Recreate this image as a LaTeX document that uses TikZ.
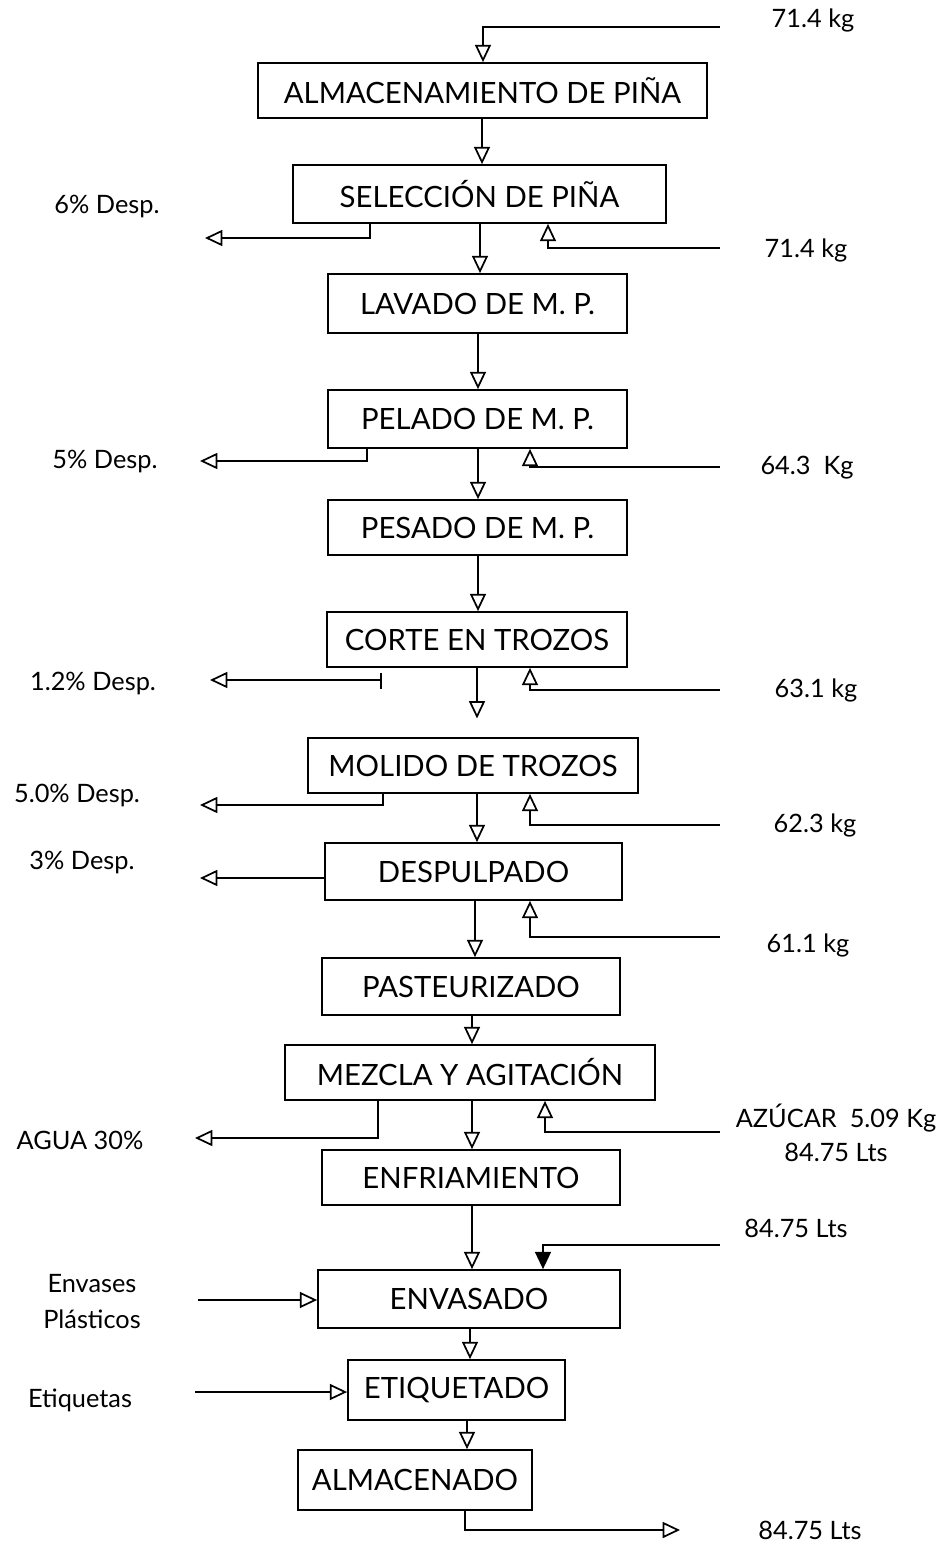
\documentclass[tikz,border=0pt]{standalone}
\usepackage{fontspec}
\setmainfont{Lato}
\usetikzlibrary{arrows.meta}
\begin{document}
\begin{tikzpicture}[x=0.75pt,y=-0.75pt,
  box/.style={draw,line width=1.3pt,inner sep=0pt,font=\fontsize{22}{26}\selectfont},
  lbl/.style={font=\fontsize{19}{23}\selectfont,align=center,inner sep=0pt},
  arr/.style={line width=1.3pt,-{Triangle[open,length=13pt,width=12pt]}},
  arrf/.style={line width=1.3pt,-{Triangle[length=13pt,width=12pt]}}]
\useasboundingbox (0,0) rectangle (950,1545);
% boxes
\node[box,minimum width=449*0.75pt,minimum height=55*0.75pt] (b1) at (482.5,90.5) {ALMACENAMIENTO DE PIÑA};
\node[box,minimum width=373*0.75pt,minimum height=58*0.75pt] (b2) at (479.5,194) {SELECCIÓN DE PIÑA};
\node[box,minimum width=299*0.75pt,minimum height=59*0.75pt] (b3) at (477.5,303.5) {LAVADO DE M. P.};
\node[box,minimum width=299*0.75pt,minimum height=58*0.75pt] (b4) at (477.5,419) {PELADO DE M. P.};
\node[box,minimum width=299*0.75pt,minimum height=55*0.75pt] (b5) at (477.5,527.5) {PESADO DE M. P.};
\node[box,minimum width=300*0.75pt,minimum height=55*0.75pt] (b6) at (477,639.5) {CORTE EN TROZOS};
\node[box,minimum width=330*0.75pt,minimum height=55*0.75pt] (b7) at (473,765.5) {MOLIDO DE TROZOS};
\node[box,minimum width=297*0.75pt,minimum height=57*0.75pt] (b8) at (473.5,871.5) {DESPULPADO};
\node[box,minimum width=298*0.75pt,minimum height=57*0.75pt] (b9) at (471,986.5) {PASTEURIZADO};
\node[box,minimum width=370*0.75pt,minimum height=55*0.75pt] (b10) at (470,1072.5) {MEZCLA Y AGITACIÓN};
\node[box,minimum width=298*0.75pt,minimum height=55*0.75pt] (b11) at (471,1177.5) {ENFRIAMIENTO};
\node[box,minimum width=302*0.75pt,minimum height=58*0.75pt] (b12) at (469,1299) {ENVASADO};
\node[box,minimum width=217*0.75pt,minimum height=60*0.75pt] (b13) at (456.5,1390) {ETIQUETADO};
\node[box,minimum width=234*0.75pt,minimum height=60*0.75pt] (b14) at (415,1480) {ALMACENADO};
% labels
\node[lbl] (l1) at (813,20) {71.4 kg};
\node[lbl] (w2l) at (107,207) {6\% Desp.};
\node[lbl] (i2l) at (806,250) {71.4 kg};
\node[lbl] (w4l) at (105,462) {5\% Desp.};
\node[lbl] (i4l) at (807,468) {64.3\ \ Kg};
\node[lbl] (w6l) at (93,683) {1.2\% Desp.};
\node[lbl] (i6l) at (816,690) {63.1 kg};
\node[lbl] (w7l) at (77,795) {5.0\% Desp.};
\node[lbl] (i7l) at (815,825) {62.3 kg};
\node[lbl] (w8l) at (82,862) {3\% Desp.};
\node[lbl] (i8l) at (808,945) {61.1 kg};
\node[lbl] (w10l) at (80,1140) {AGUA 30\%};
\node[lbl] (i10l) at (836,1133) {AZÚCAR\ \ 5.09 Kg\\[3pt]84.75 Lts};
\node[lbl] (i12l) at (796,1228) {84.75 Lts};
\node[lbl] (e12l) at (92,1302) {Envases\\[4pt]Plásticos};
\node[lbl] (e13l) at (80,1400) {Etiquetas};
\node[lbl] (outl) at (810,1530) {84.75 Lts};
% free ends
\coordinate (i1) at (720,27);
\coordinate (w2) at (205,238);
\coordinate (i2) at (720,248);
\coordinate (w4) at (200,461);
\coordinate (i4) at (720,467);
\coordinate (w6) at (210,680);
\coordinate (i6) at (720,690);
\coordinate (w7) at (200,805);
\coordinate (i7) at (720,825);
\coordinate (w8) at (200,878);
\coordinate (i8) at (720,937);
\coordinate (w10) at (195,1138);
\coordinate (i10) at (720,1132);
\coordinate (i12) at (720,1245);
\coordinate (e12) at (198,1300);
\coordinate (e13) at (195,1392);
\coordinate (out) at (680,1530);
% main flow
\draw[arr] (i1) -| (483,0 |- b1.north);
\draw[arr] (482,0 |- b1.south) -- (482,0 |- b2.north);
\draw[arr] (480,0 |- b2.south) -- (480,0 |- b3.north);
\draw[arr] (478,0 |- b3.south) -- (478,0 |- b4.north);
\draw[arr] (478,0 |- b4.south) -- (478,0 |- b5.north);
\draw[arr] (478,0 |- b5.south) -- (478,0 |- b6.north);
\draw[arr,shorten >=14pt] (477,0 |- b6.south) -- (477,0 |- b7.north);
\draw[arr] (477,0 |- b7.south) -- (477,0 |- b8.north);
\draw[arr] (475,0 |- b8.south) -- (475,0 |- b9.north);
\draw[arr] (472,0 |- b9.south) -- (472,0 |- b10.north);
\draw[arr] (472,0 |- b10.south) -- (472,0 |- b11.north);
\draw[arr] (472,0 |- b11.south) -- (472,0 |- b12.north);
\draw[arr] (470,0 |- b12.south) -- (470,0 |- b13.north);
\draw[arr] (467,0 |- b13.south) -- (467,0 |- b14.north);
\draw[arr] (465,0 |- b14.south) |- (out);
% wastes
\draw[arr] (370,0 |- b2.south) |- (w2);
\draw[arr] (367,0 |- b4.south) |- (w4);
\draw[line width=1.3pt] (381,0 |- b6.south) ++(0,5) -- ++(0,16);
\draw[arr] (381,680) -- (w6);
\draw[arr] (383,0 |- b7.south) |- (w7);
\draw[arr] (b8.west |- w8) -- (w8);
\draw[arr] (378,0 |- b10.south) |- (w10);
% inputs
\draw[arr] (i2) -| (548,0 |- b2.south);
\draw[arr] (i4) -| (530,0 |- b4.south);
\draw[arr] (i6) -| (530,0 |- b6.south);
\draw[arr] (i7) -| (530,0 |- b7.south);
\draw[arr] (i8) -| (530,0 |- b8.south);
\draw[arr] (i10) -| (545,0 |- b10.south);
\draw[arrf] (i12) -| (543,0 |- b12.north);
\draw[arr] (e12) -- (b12.west |- e12);
\draw[arr] (e13) -- (b13.west |- e13);
\end{tikzpicture}
\end{document}
